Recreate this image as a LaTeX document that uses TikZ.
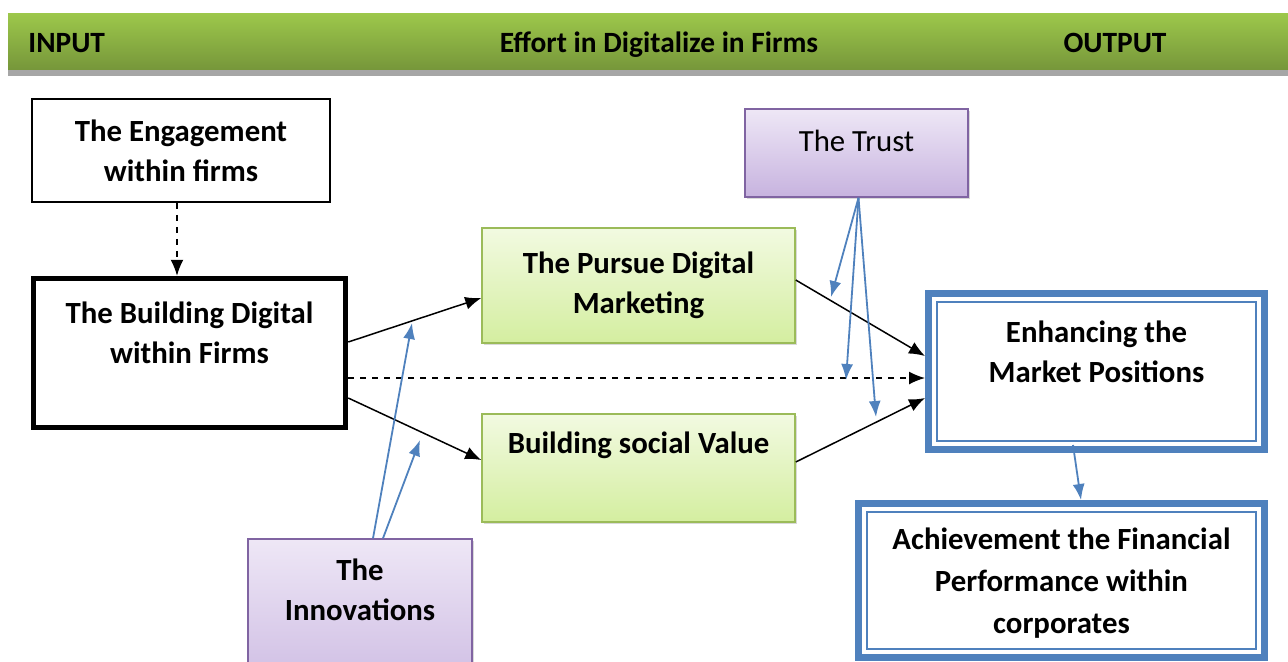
\documentclass[tikz,border=0pt]{standalone}
\usepackage{fontspec}
\setmainfont{Carlito}
\usetikzlibrary{arrows.meta,shadows}
\definecolor{hdtop}{HTML}{9DC84B}
\definecolor{hdbot}{HTML}{76963A}
\definecolor{grtop}{HTML}{F2FAE1}
\definecolor{grbot}{HTML}{D4EEA0}
\definecolor{grline}{HTML}{9BBB59}
\definecolor{pptop}{HTML}{EEE7F6}
\definecolor{ppbot}{HTML}{C7B3DF}
\definecolor{ppline}{HTML}{8064A2}
\definecolor{outblue}{HTML}{4F81BD}

\begin{document}
\begin{tikzpicture}[x=0.5pt,y=-0.5pt,>={Latex[length=8pt,width=6.5pt]},
  every node/.style={font=\fontsize{15.4}{20}\selectfont\bfseries,align=center,inner sep=0pt},
  headtext/.style={font=\fontsize{14.7}{20}\selectfont\bfseries},
  plainbox/.style={draw,line width=.75pt},
  heavybox/.style={draw,line width=2.75pt},
  greenbox/.style={draw=grline,line width=.75pt,top color=grtop,bottom color=grbot,
    drop shadow={shadow xshift=1.2pt,shadow yshift=-1.2pt,opacity=.3}},
  purplebox/.style={draw=ppline,line width=.75pt,top color=pptop,bottom color=ppbot,
    drop shadow={shadow xshift=1.2pt,shadow yshift=-1.2pt,opacity=.3}},
  outcome/.style={draw=outblue,line width=3.5pt,fill=white},
  link/.style={->,line width=.75pt},
  hint/.style={-{Latex[length=8pt,width=6pt]},line width=.9pt,draw=outblue,fill=outblue}]
  \useasboundingbox (0,0) rectangle (1288,661);

  \shade[top color=hdtop,bottom color=hdbot] (8,13) rectangle (1288,70);
  \fill[black!35] (8,70) rectangle (1288,76);
  \node[headtext,anchor=base west] (inp) at (28,52) {INPUT};
  \node[headtext,anchor=base] (eff) at (659,52) {Effort in Digitalize in Firms};
  \node[headtext,anchor=base] (outp) at (1115,52) {OUTPUT};

  \node[plainbox,minimum width=149pt,minimum height=51.5pt] (eng) at (181,150.5) {The Engagement\\within firms};
  \node[heavybox,minimum width=156pt,minimum height=74.5pt] (bld) at (189.5,353) {The Building Digital\\within Firms\\\mbox{}};
  \node[greenbox,minimum width=156.5pt,minimum height=57.5pt] (pur) at (638.5,285.5) {The Pursue Digital\\Marketing};
  \node[greenbox,minimum width=156.5pt,minimum height=54pt] (soc) at (638.5,468) {Building social Value\\[5pt]\mbox{}};
  \node[purplebox,minimum width=111.5pt,minimum height=44pt,font=\fontsize{15.4}{20}\selectfont] (tru) at (856.5,153) {The Trust\\[-8pt]\mbox{}};
  \node[purplebox,minimum width=112pt,minimum height=91pt] (inn) at (360,630) {The\\Innovations\\[20pt]\mbox{}};
  \node[outcome,minimum width=168pt,minimum height=78pt] (enh) at (1096.5,371.5) {Enhancing the\\Market Positions\\\mbox{}};
  \node[outcome,minimum width=203pt,minimum height=77pt,text depth=-2pt] (ach) at (1061.5,580.5) {Achievement the Financial\\[1pt]Performance within\\[1pt]corporates};
  \foreach \b in {enh,ach}
    \draw[outblue,line width=1pt] ([xshift=6pt,yshift=6pt]\b.south west) rectangle ([xshift=-6pt,yshift=-6pt]\b.north east);

  \coordinate (t1) at (831,297);
  \coordinate (t2) at (846,380);
  \coordinate (t3) at (876,417);
  \coordinate (i1) at (412,323);
  \coordinate (i2) at (420,440);

  \draw[link,dashed] ([xshift=-2pt]eng.south) -- ([xshift=-2pt]eng.south |- bld.north);
  \draw[link] ([yshift=5.5pt]bld.east) -- ([yshift=-6.25pt]pur.west);
  \draw[link,dashed] ([yshift=-12.5pt]bld.east) -- ([yshift=-12.5pt]bld.east -| enh.west);
  \draw[link] ([yshift=-22.5pt]bld.east) -- ([yshift=4pt]soc.west);
  \draw[link] ([yshift=2.75pt]pur.east) -- ([yshift=7.75pt]enh.west);
  \draw[link] ([yshift=3pt]soc.east) -- ([yshift=-13.25pt]enh.west);

  \foreach \c in {t1,t2,t3}
    \draw[hint] ([xshift=1pt]tru.south) -- (\c);
  \draw[hint] ([xshift=6.5pt]inn.north) -- (i1);
  \draw[hint] ([xshift=11.5pt]inn.north) -- (i2);
  \draw[hint] ([xshift=-11.75pt,yshift=4pt]enh.south) -- ([xshift=9.75pt]ach.north);
\end{tikzpicture}
\end{document}
